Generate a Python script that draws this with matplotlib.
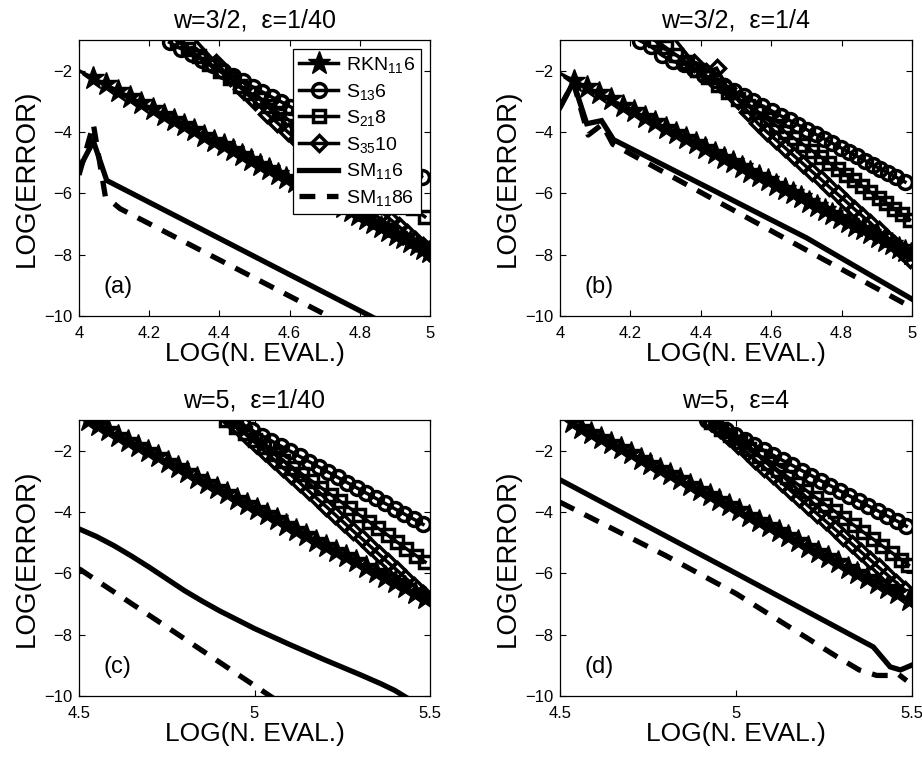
import matplotlib
matplotlib.use("Agg")
import matplotlib.pyplot as plt

plt.rcParams['font.family'] = ['Liberation Sans', 'DejaVu Sans']
plt.rcParams['mathtext.default'] = 'regular'

# ---------------- data ----------------
titles = ["w=3/2,  \u03b5=1/40", "w=3/2,  \u03b5=1/4", "w=5,  \u03b5=1/40", "w=5,  \u03b5=4"]
panel_tags = ["(a)", "(b)", "(c)", "(d)"]
xlims = [(4, 5), (4, 5), (4.5, 5.5), (4.5, 5.5)]
xticks_top = [4, 4.2, 4.4, 4.6, 4.8, 5]
xticks_bot = [4.5, 5, 5.5]
yticks = [-10, -8, -6, -4, -2]
labels = [r'RKN$_{11}$6', r'S$_{13}$6', r'S$_{21}$8', r'S$_{35}$10', r'SM$_{11}$6', r'SM$_{11}$86']

# panel (a)
rkn_a_x = [3.97, 4.04, 4.076, 4.111, 4.145, 4.178, 4.210, 4.241, 4.271, 4.300, 4.329, 4.357, 4.385, 4.412,
           4.439, 4.465, 4.491, 4.516, 4.541, 4.566, 4.590, 4.614, 4.638, 4.661, 4.684, 4.707, 4.730, 4.752,
           4.774, 4.796, 4.818, 4.839, 4.860, 4.881, 4.902, 4.922, 4.942, 4.962, 4.980, 4.998]
rkn_a_y = [-1.82, -2.24, -2.45, -2.66, -2.86, -3.06, -3.25, -3.43, -3.61, -3.78, -3.95, -4.12, -4.28, -4.44,
           -4.60, -4.76, -4.91, -5.06, -5.21, -5.36, -5.50, -5.64, -5.78, -5.92, -6.06, -6.19, -6.33, -6.46,
           -6.59, -6.72, -6.85, -6.98, -7.10, -7.22, -7.35, -7.47, -7.59, -7.70, -7.81, -7.92]
s13_a_x = [4.258, 4.290, 4.321, 4.351, 4.381, 4.410, 4.439, 4.467, 4.495, 4.522, 4.549, 4.575, 4.601, 4.627,
           4.652, 4.677, 4.702, 4.726, 4.750, 4.774, 4.797, 4.820, 4.843, 4.866, 4.888, 4.910, 4.932, 4.954, 4.976]
s13_a_y = [-1.08, -1.28, -1.46, -1.65, -1.83, -2.01, -2.18, -2.35, -2.53, -2.69, -2.86, -3.01, -3.17, -3.33,
           -3.48, -3.64, -3.79, -3.93, -4.08, -4.23, -4.37, -4.51, -4.65, -4.79, -4.92, -5.06, -5.19, -5.33, -5.46]
s21_a_x = [4.278, 4.310, 4.341, 4.371, 4.401, 4.430, 4.459, 4.487, 4.515, 4.542, 4.569, 4.595, 4.621, 4.647,
           4.672, 4.697, 4.722, 4.746, 4.770, 4.794, 4.817, 4.840, 4.863, 4.886, 4.908, 4.930, 4.952, 4.985]
s21_a_y = [-1.02, -1.28, -1.53, -1.78, -2.02, -2.25, -2.49, -2.72, -2.94, -3.16, -3.38, -3.59, -3.81, -4.02,
           -4.22, -4.42, -4.63, -4.82, -5.02, -5.21, -5.40, -5.58, -5.77, -5.96, -6.14, -6.31, -6.49, -6.76]
s35_a_x = [4.30, 4.39, 4.43, 4.465, 4.50, 4.535, 4.565, 4.595, 4.625, 4.655, 4.683, 4.711, 4.738, 4.764,
           4.790, 4.815, 4.840, 4.864, 4.888, 4.911, 4.934, 4.957, 4.979, 4.998]
s35_a_y = [-0.6, -1.75, -2.2, -2.6, -3.0, -3.4, -3.7, -4.0, -4.3, -4.6, -4.88, -5.15, -5.42, -5.67,
           -5.92, -6.16, -6.40, -6.63, -6.86, -7.08, -7.30, -7.51, -7.72, -7.90]
sm6_a_x = [4.0, 4.041, 4.079, 4.3, 4.6, 4.85]
sm6_a_y = [-5.2, -4.3, -5.58, -6.88, -8.65, -10.12]
sm86_a_x = [4.0, 4.041, 4.075, 4.117, 4.4, 4.73]
sm86_a_y = [-5.4, -3.75, -6.1, -6.5, -8.17, -10.12]

# panel (b)
rkn_b_x = rkn_a_x
rkn_b_y = [-1.91, -2.33, -2.54, -2.74, -2.94, -3.14, -3.33, -3.51, -3.69, -3.86, -4.03, -4.20, -4.36, -4.52,
           -4.68, -4.84, -4.99, -5.14, -5.29, -5.43, -5.57, -5.72, -5.86, -5.99, -6.13, -6.27, -6.40, -6.53,
           -6.66, -6.79, -6.92, -7.05, -7.17, -7.29, -7.42, -7.54, -7.65, -7.77, -7.88, -7.99]
s13_b_x = [4.227, 4.258, 4.290, 4.321, 4.351, 4.381, 4.410, 4.439, 4.467, 4.495, 4.522, 4.549, 4.575, 4.601,
           4.627, 4.652, 4.677, 4.702, 4.726, 4.750, 4.774, 4.797, 4.820, 4.843, 4.866, 4.888, 4.910, 4.932,
           4.954, 4.980]
s13_b_y = [-1.02, -1.21, -1.50, -1.70, -1.78, -1.96, -2.14, -2.32, -2.49, -2.66, -2.83, -2.99, -3.15, -3.31,
           -3.47, -3.62, -3.77, -3.93, -4.07, -4.22, -4.37, -4.51, -4.65, -4.79, -4.93, -5.07, -5.20, -5.33,
           -5.47, -5.63]
s21_b_x = [4.27, 4.30, 4.33, 4.36, 4.39, 4.42, 4.45, 4.478, 4.506, 4.534, 4.561, 4.588, 4.614, 4.640,
           4.666, 4.691, 4.716, 4.741, 4.765, 4.789, 4.813, 4.836, 4.859, 4.882, 4.905, 4.927, 4.949, 4.971, 4.993]
s21_b_y = [-1.00, -1.24, -1.49, -1.73, -1.97, -2.22, -2.46, -2.68, -2.91, -3.14, -3.36, -3.58, -3.79, -4.00,
           -4.21, -4.41, -4.61, -4.82, -5.01, -5.20, -5.40, -5.58, -5.77, -5.96, -6.14, -6.32, -6.50, -6.68, -6.86]
s35_b_x = [4.30, 4.38, 4.415, 4.445, 4.475, 4.505, 4.535, 4.562, 4.588, 4.614, 4.640, 4.666, 4.691, 4.716,
           4.741, 4.765, 4.789, 4.813, 4.836, 4.859, 4.882, 4.905, 4.927, 4.949, 4.971, 4.995]
s35_b_y = [-0.6, -1.75, -2.05, -1.92, -2.55, -2.95, -3.35, -3.72, -4.00, -4.26, -4.52, -4.79, -5.04, -5.29,
           -5.54, -5.79, -6.03, -6.27, -6.51, -6.74, -6.97, -7.21, -7.43, -7.65, -7.88, -8.15]
sm6_b_x = [4.0, 4.038, 4.076, 4.118, 4.152, 4.43, 4.70, 4.89, 5.0]
sm6_b_y = [-3.2, -2.38, -3.73, -3.63, -4.25, -5.87, -7.45, -8.72, -9.45]
sm86_b_x = [4.0, 4.038, 4.08, 4.12, 4.15, 4.70, 4.986, 5.0]
sm86_b_y = [-3.2, -2.38, -4.1, -3.75, -4.4, -7.85, -9.64, -9.72]

# panel (c)
rkn_c_x = [4.527, 4.555, 4.583, 4.612, 4.640, 4.668, 4.696, 4.724, 4.753, 4.781, 4.809, 4.837, 4.865, 4.894,
           4.922, 4.950, 4.978, 5.006, 5.035, 5.063, 5.091, 5.119, 5.147, 5.176, 5.204, 5.232, 5.260, 5.288,
           5.317, 5.345, 5.373, 5.401, 5.429, 5.458, 5.486]
rkn_c_y = [-1.00, -1.17, -1.34, -1.51, -1.68, -1.85, -2.02, -2.19, -2.37, -2.54, -2.71, -2.88, -3.04, -3.22,
           -3.39, -3.56, -3.73, -3.90, -4.07, -4.24, -4.41, -4.58, -4.75, -4.93, -5.10, -5.27, -5.43, -5.60,
           -5.78, -5.95, -6.12, -6.29, -6.46, -6.63, -6.80]
s13_c_x = [4.94, 4.967, 4.994, 5.021, 5.048, 5.075, 5.102, 5.129, 5.156, 5.183, 5.210, 5.237, 5.264, 5.291,
           5.318, 5.345, 5.372, 5.399, 5.426, 5.453, 5.48]
s13_c_y = [-1.00, -1.17, -1.34, -1.51, -1.68, -1.85, -2.02, -2.19, -2.36, -2.53, -2.70, -2.87, -3.04, -3.21,
           -3.38, -3.55, -3.72, -3.89, -4.06, -4.23, -4.40]
s21_c_x = [4.92, 4.947, 4.974, 5.001, 5.028, 5.055, 5.082, 5.109, 5.136, 5.163, 5.190, 5.217, 5.244, 5.271,
           5.298, 5.325, 5.352, 5.379, 5.406, 5.433, 5.460, 5.486]
s21_c_y = [-1.00, -1.22, -1.44, -1.66, -1.88, -2.10, -2.33, -2.55, -2.77, -2.99, -3.21, -3.43, -3.65, -3.87,
           -4.09, -4.31, -4.53, -4.75, -4.98, -5.20, -5.42, -5.63]
s35_c_x = [4.93, 4.955, 4.98, 5.005, 5.03, 5.055, 5.08, 5.105, 5.13, 5.155, 5.18, 5.205, 5.23, 5.255,
           5.28, 5.305, 5.33, 5.355, 5.38, 5.405, 5.43, 5.455, 5.48]
s35_c_y = [-1.00, -1.26, -1.52, -1.77, -2.03, -2.29, -2.55, -2.80, -3.06, -3.32, -3.58, -3.83, -4.09, -4.35,
           -4.61, -4.86, -5.12, -5.38, -5.64, -5.89, -6.15, -6.41, -6.67]
sm6_c_x = [4.5, 4.55, 4.6, 4.65, 4.7, 4.75, 4.8, 4.85, 4.9, 5.0, 5.1, 5.2, 5.3, 5.36, 5.4, 5.44]
sm6_c_y = [-4.55, -4.8, -5.1, -5.44, -5.8, -6.18, -6.56, -6.9, -7.22, -7.8, -8.32, -8.82, -9.3, -9.6, -9.82, -10.1]
sm86_c_x = [4.5, 4.77, 5.06]
sm86_c_y = [-5.85, -7.9, -10.12]

# panel (d)
rkn_d_x = [4.533, 4.561, 4.589, 4.617, 4.645, 4.673, 4.701, 4.729, 4.757, 4.785, 4.813, 4.841, 4.869, 4.897,
           4.925, 4.953, 4.981, 5.009, 5.037, 5.065, 5.093, 5.121, 5.149, 5.177, 5.205, 5.233, 5.261, 5.289,
           5.317, 5.345, 5.373, 5.401, 5.429, 5.457, 5.492]
rkn_d_y = [-1.08, -1.25, -1.42, -1.59, -1.76, -1.92, -2.09, -2.26, -2.43, -2.60, -2.77, -2.94, -3.11, -3.27,
           -3.44, -3.61, -3.78, -3.95, -4.12, -4.29, -4.46, -4.63, -4.79, -4.96, -5.13, -5.30, -5.47, -5.64,
           -5.81, -5.98, -6.15, -6.31, -6.48, -6.65, -6.86]
s13_d_x = [4.917, 4.944, 4.971, 4.998, 5.025, 5.052, 5.079, 5.106, 5.133, 5.160, 5.187, 5.214, 5.241, 5.268,
           5.295, 5.322, 5.349, 5.376, 5.403, 5.430, 5.457, 5.484]
s13_d_y = [-1.00, -1.16, -1.33, -1.49, -1.66, -1.82, -1.99, -2.15, -2.32, -2.48, -2.65, -2.81, -2.98, -3.14,
           -3.31, -3.47, -3.64, -3.80, -3.96, -4.13, -4.29, -4.46]
s21_d_x = [4.93, 4.957, 4.984, 5.011, 5.038, 5.065, 5.092, 5.119, 5.146, 5.173, 5.200, 5.227, 5.254, 5.281,
           5.308, 5.335, 5.362, 5.389, 5.416, 5.443, 5.470, 5.490]
s21_d_y = [-1.05, -1.28, -1.50, -1.73, -1.95, -2.18, -2.40, -2.63, -2.85, -3.08, -3.30, -3.53, -3.76, -3.98,
           -4.21, -4.43, -4.66, -4.88, -5.11, -5.33, -5.56, -5.73]
s35_d_x = [4.93, 4.955, 4.98, 5.005, 5.03, 5.055, 5.08, 5.105, 5.13, 5.155, 5.18, 5.205, 5.23, 5.255,
           5.28, 5.305, 5.33, 5.355, 5.38, 5.405, 5.43, 5.455, 5.48]
s35_d_y = [-1.05, -1.30, -1.55, -1.80, -2.05, -2.30, -2.55, -2.80, -3.05, -3.30, -3.55, -3.80, -4.05, -4.30,
           -4.55, -4.80, -5.05, -5.30, -5.55, -5.80, -6.05, -6.30, -6.55]
sm6_d_x = [4.5, 5.0, 5.39, 5.438, 5.467, 5.5]
sm6_d_y = [-2.95, -6.0, -8.4, -9.05, -9.15, -8.99]
sm86_d_x = [4.5, 4.8, 5.0, 5.287, 5.35, 5.40, 5.44, 5.46, 5.485]
sm86_d_y = [-3.68, -5.42, -6.66, -8.72, -9.15, -9.33, -9.33, -9.28, -9.5]

panels = [
    [(rkn_a_x, rkn_a_y), (s13_a_x, s13_a_y), (s21_a_x, s21_a_y), (s35_a_x, s35_a_y), (sm6_a_x, sm6_a_y), (sm86_a_x, sm86_a_y)],
    [(rkn_b_x, rkn_b_y), (s13_b_x, s13_b_y), (s21_b_x, s21_b_y), (s35_b_x, s35_b_y), (sm6_b_x, sm6_b_y), (sm86_b_x, sm86_b_y)],
    [(rkn_c_x, rkn_c_y), (s13_c_x, s13_c_y), (s21_c_x, s21_c_y), (s35_c_x, s35_c_y), (sm6_c_x, sm6_c_y), (sm86_c_x, sm86_c_y)],
    [(rkn_d_x, rkn_d_y), (s13_d_x, s13_d_y), (s21_d_x, s21_d_y), (s35_d_x, s35_d_y), (sm6_d_x, sm6_d_y), (sm86_d_x, sm86_d_y)],
]

# ---------------- styles ----------------
styles = [
    dict(marker='*', ms=17, mfc='k', mec='k', mew=1.0, lw=2.5, ls='-'),
    dict(marker='o', ms=10, mfc='none', mec='k', mew=2.5, lw=2.5, ls='-'),
    dict(marker='s', ms=8.5, mfc='none', mec='k', mew=2.5, lw=2.5, ls='-'),
    dict(marker='D', ms=8.5, mfc='none', mec='k', mew=2.5, lw=2.5, ls='-'),
    dict(marker='None', lw=3.8, ls='-'),
    dict(marker='None', lw=3.8, ls=(0, (3.0, 2.2))),
]

W, H = 922, 760
fig = plt.figure(figsize=(W / 100, H / 100), dpi=100)
rects = [
    [79 / W, 1 - 316 / H, 351 / W, 276 / H],
    [560 / W, 1 - 316 / H, 352 / W, 276 / H],
    [79 / W, 1 - 696 / H, 351 / W, 276 / H],
    [560 / W, 1 - 696 / H, 352 / W, 276 / H],
]

for i, (rect, series) in enumerate(zip(rects, panels)):
    ax = fig.add_axes(rect)
    handles = []
    for (xs, ys), st, lab in zip(series, styles, labels):
        h, = ax.plot(xs, ys, color='k', label=lab, solid_joinstyle='miter', **st)
        handles.append(h)
    ax.set_xlim(*xlims[i])
    ax.set_ylim(-10, -1)
    ax.set_xticks(xticks_top if i < 2 else xticks_bot)
    ax.set_xticklabels(['%g' % t for t in (xticks_top if i < 2 else xticks_bot)])
    ax.set_yticks(yticks)
    ax.set_yticklabels(['\u2212%d' % (-t) for t in yticks])
    ax.tick_params(direction='in', top=True, right=True, length=4.5, width=0.8, labelsize=12)
    ax.tick_params(axis='x', pad=7)
    ax.tick_params(axis='y', pad=5)
    for sp in ax.spines.values():
        sp.set_linewidth(0.9)
    ax.set_title(titles[i], fontsize=18, pad=9)
    ax.set_xlabel('LOG(N. EVAL.)', fontsize=19, labelpad=1)
    ax.set_ylabel('LOG(ERROR)', fontsize=20, labelpad=3)
    ax.text(0.07, 0.105, panel_tags[i], transform=ax.transAxes, fontsize=17, ha='left', va='center')
    if i == 0:
        leg = ax.legend(handles=handles, loc='upper right', bbox_to_anchor=(0.974, 0.967),
                        borderaxespad=0, fontsize=14, frameon=True, fancybox=False, framealpha=1,
                        edgecolor='k', handlelength=2.0, handletextpad=0.4, labelspacing=0.34,
                        borderpad=0.3)
        leg.get_frame().set_linewidth(0.9)

fig.savefig('out.png', dpi=100)
